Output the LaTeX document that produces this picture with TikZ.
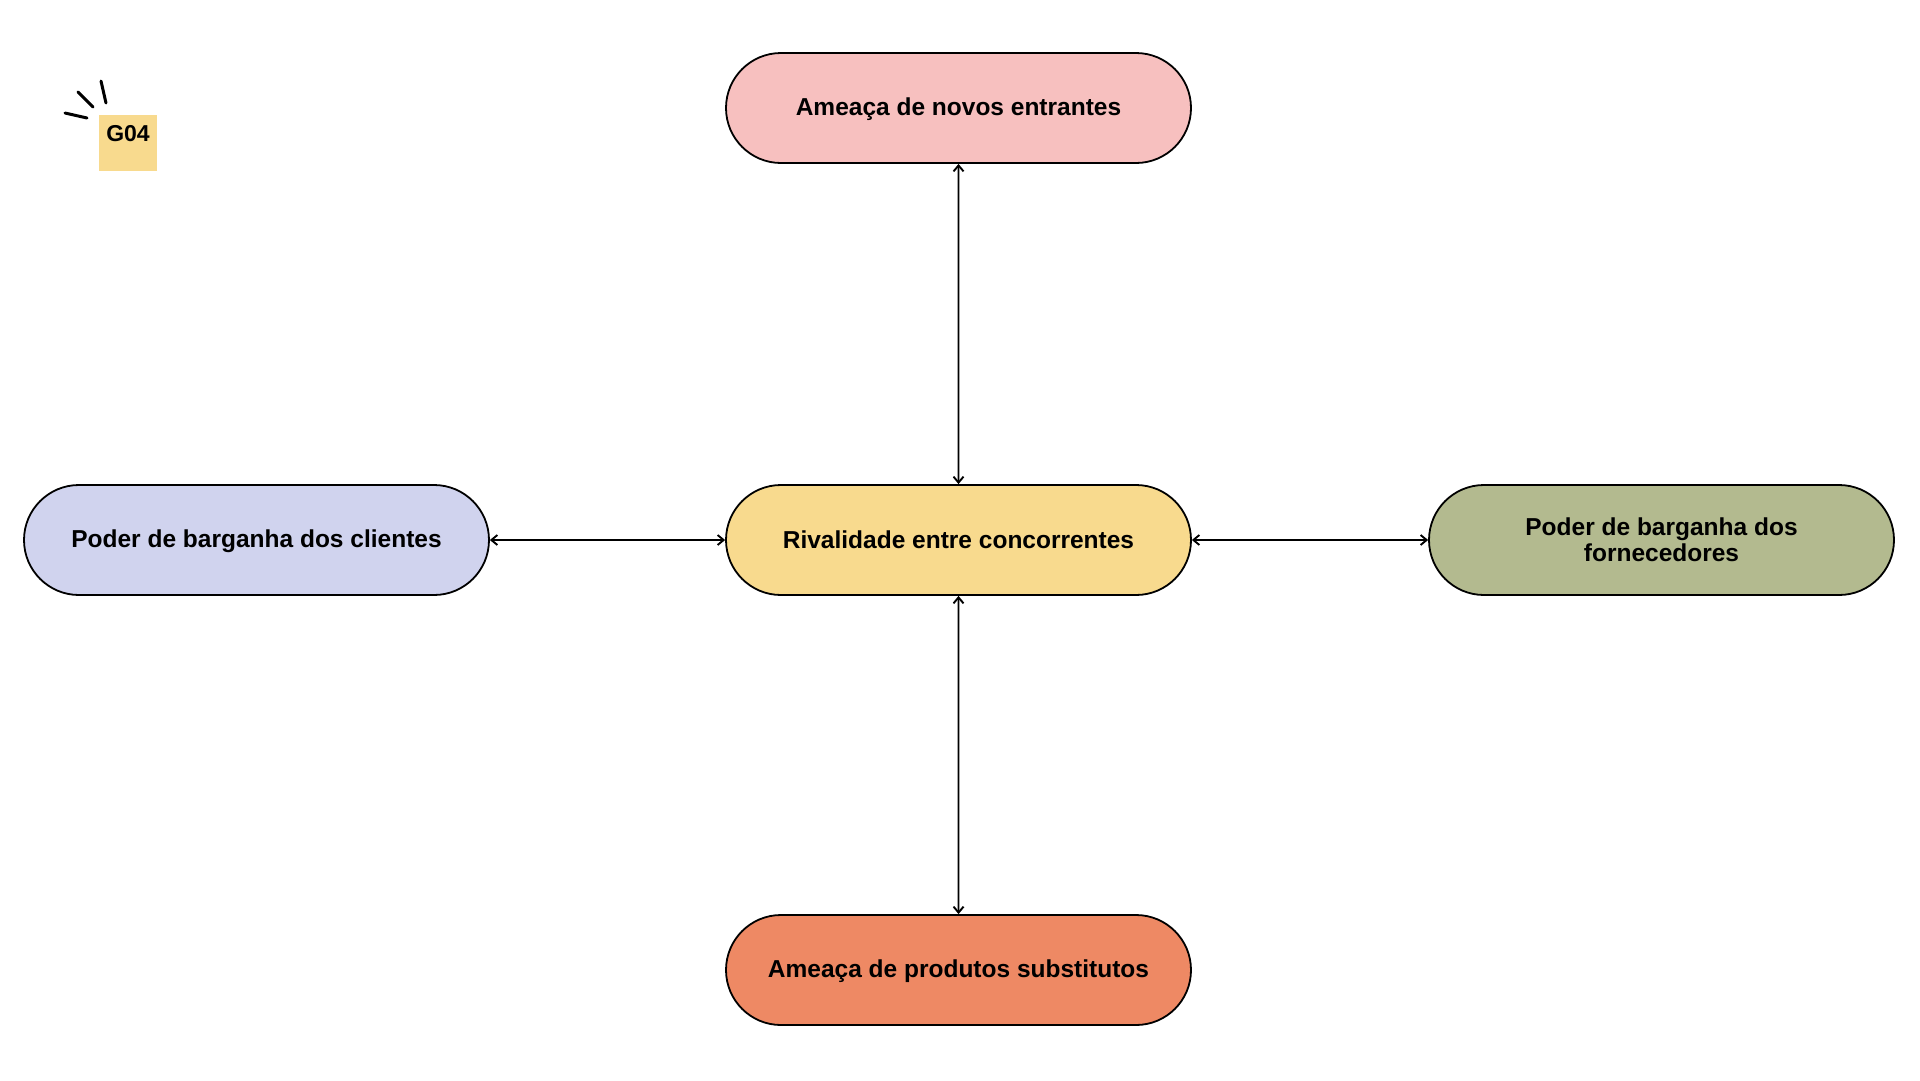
\documentclass[tikz,border=0pt]{standalone}
\usepackage{fontspec}
\setmainfont{Liberation Sans}
\usetikzlibrary{shapes.misc,arrows.meta}
\definecolor{rosa}{HTML}{F7C0BF}
\definecolor{amarelo}{HTML}{F8DA8E}
\definecolor{lilas}{HTML}{D0D3EE}
\definecolor{oliva}{HTML}{B3BA8F}
\definecolor{laranja}{HTML}{EE8964}
\newcommand{\ajuste}{\rule[-0.17em]{0pt}{1em}}
\tikzset{
    forca/.style={rounded rectangle,draw=black,line width=1.8pt,minimum width=465pt,minimum height=110pt,
        align=center,font=\fontsize{24.5}{26}\selectfont\bfseries,inner sep=0pt},
    seta/.style={{Straight Barb[length=6pt,width=10pt]}-{Straight Barb[length=6pt,width=10pt]},line width=1.9pt}
}

\begin{document}
\begin{tikzpicture}[x=1pt,y=-1pt]
    \useasboundingbox (0,0) rectangle (1920,1080);
    %Rivalidade
    \node[forca,fill=amarelo] (rivalidade) at (958.5,540) {\ajuste Rivalidade entre concorrentes};
    %Entrantes
    \node[forca,fill=rosa] (entrantes) at (958.5,108) {\ajuste Ameaça de novos entrantes};
    %Clientes
    \node[forca,fill=lilas] (clientes) at (256.5,540) {\ajuste Poder de barganha dos clientes};
    %Fornecedores
    \node[forca,fill=oliva] (fornecedores) at (1661.5,540) {Poder de barganha dos\\fornecedores};
    %Substitutos
    \node[forca,fill=laranja] (substitutos) at (958.5,970) {\ajuste Ameaça de produtos substitutos};
    %Arrows
    \draw[seta] (entrantes) -- (rivalidade);
    \draw[seta] (substitutos) -- (rivalidade);
    \draw[seta] (clientes) -- (rivalidade);
    \draw[seta] (fornecedores) -- (rivalidade);
    %Grupo
    \node[fill=amarelo,minimum width=58pt,minimum height=56pt,inner sep=0pt] (nota) at (128,143) {};
    \node[font=\fontsize{23}{26}\selectfont\bfseries,inner sep=0pt] (grupo) at (128,134) {G04};
    \draw[line width=3pt,line cap=round] (65,113) -- (87,118);
    \draw[line width=3pt,line cap=round] (78,92) -- (93,107);
    \draw[line width=3pt,line cap=round] (101,81) -- (106,103);
\end{tikzpicture}
\end{document}
